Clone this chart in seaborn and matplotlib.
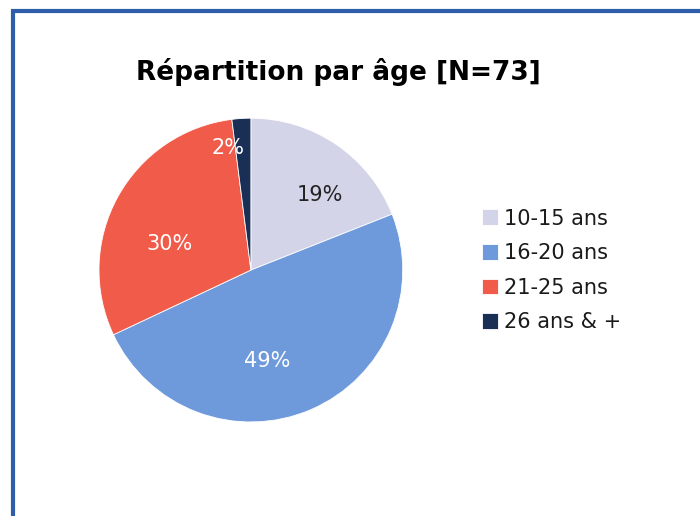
import numpy as np
import matplotlib
matplotlib.use("Agg")
import matplotlib.pyplot as plt
import seaborn as sns
from matplotlib.patches import Rectangle

# data
categories = ["10-15 ans", "16-20 ans", "21-25 ans", "26 ans & +"]
shares = [19, 49, 30, 2]
colors = ["#D4D4E9", "#6E9ADB", "#F15B4A", "#192F55"]
label_colors = ["#222222", "white", "white", "white"]
title = "Répartition par âge [N=73]"

sns.set_theme(style="white")
plt.rcParams["font.family"] = ["DejaVu Sans"]

fig = plt.figure(figsize=(7, 5.16), dpi=100)
ax = fig.add_axes([0.1414, 0.1821, 0.434, 0.589])

wedges, _ = ax.pie(shares, colors=colors, startangle=90, counterclock=False,
                   wedgeprops=dict(edgecolor="white", linewidth=0.6))
ax.set_xlim(-1, 1)
ax.set_ylim(-1, 1)
ax.set_aspect("equal")

# label placement (Excel "best fit" style distances / angle nudges)
dist = [0.67, 0.61, 0.56, 0.82]
nudge = [-8.4, -13.5, 11, 7]
for w, s, c, d, n in zip(wedges, shares, label_colors, dist, nudge):
    ang = np.deg2rad((w.theta1 + w.theta2) / 2 + n)
    ax.text(d * np.cos(ang), d * np.sin(ang), f"{s}%", ha="center", va="center",
            fontsize=15, color=c)

fig.text(338 / 700, 1 - 72 / 516, title, ha="center", va="center",
         fontsize=19, fontweight="bold", color="black")

fig.legend(wedges, categories, loc="upper left", bbox_to_anchor=(0.677, 0.612),
           frameon=False, fontsize=15, handlelength=0.78, handleheight=0.78,
           handletextpad=0.25, labelspacing=0.7, borderaxespad=0,
           labelcolor="#1a1a1a")

# blue frame of the chart area (cut at right/bottom)
fig.patches.append(Rectangle((12.5 / 700, -0.2), 2, 1 - 10.5 / 516 + 0.2,
                             transform=fig.transFigure, fill=False,
                             edgecolor="#2E5EAA", linewidth=3, clip_on=False))

fig.savefig("out.png", dpi=100)
